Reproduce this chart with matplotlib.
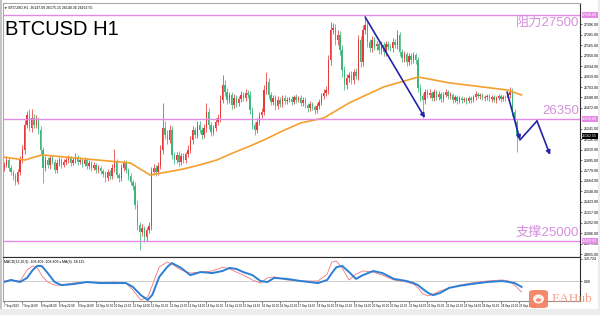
import numpy as np
import matplotlib.pyplot as plt
from matplotlib.patches import FancyBboxPatch, Rectangle, Ellipse

plt.rcParams['font.family'] = ['Liberation Sans', 'Noto Sans CJK SC', 'DejaVu Sans']

# 2-hour candles (open = previous close)
first_open = 25800
closes = [
    25841, 25896, 25808, 25764, 25720, 25653, 25764, 25896, 26007, 26283, 26394, 26250,
    26361, 26283, 26339, 26228, 26007, 25808, 25896, 25841, 25919, 25874, 25786, 25863,
    25896, 25841, 25874, 25896, 25919, 25863, 25896, 25930, 25874, 25896, 25852, 25896, 25830,
    25863, 25808, 25841, 25786, 25808, 25775, 25742, 25697, 25764, 25720, 25808, 25874, 25730,
    25697, 25808, 25863, 25786, 25720, 25653, 25609, 25399, 25177, 25100, 25144, 25045,
    25122, 25166, 25764, 25808, 25764, 25830, 26007, 26250, 26173, 26118, 26228, 25952,
    25896, 25952, 25874, 25941, 25896, 25960, 26007, 26118, 26228, 26173, 26283, 26228, 26173,
    26250, 26430, 26283, 26206, 26250, 26317, 26361, 26560, 26726, 26648, 26560, 26615,
    26505, 26582, 26527, 26570, 26615, 26582, 26637, 26615, 26449, 26283, 26228, 26317, 26394,
    26427, 26670, 26759, 26615, 26538, 26582, 26494, 26560, 26516, 26582, 26549, 26560, 26571,
    26538, 26593, 26560, 26582, 26527, 26560, 26505, 26471, 26516, 26480, 26449, 26494, 26538,
    26604, 26637, 26670, 27002, 27334, 27356, 27223, 27279, 27113, 26892, 26726, 26803,
    26836, 26781, 26870, 26825, 27223, 26980, 27334, 27389, 27201, 27135, 27223, 27157,
    27179, 27113, 27168, 27091, 27179, 27150, 27135, 27201, 27168, 27279, 27091, 27025, 27069,
    26980, 27047, 27002, 27058, 27002, 26693, 26604, 26560, 26648, 26615, 26637, 26582,
    26648, 26593, 26626, 26571, 26615, 26648, 26604, 26620, 26560, 26593, 26549, 26582, 26560,
    26571, 26549, 26582, 26560, 26593, 26626, 26604, 26615, 26582, 26590, 26604, 26571, 26593,
    26560, 26582, 26604, 26571, 26593, 26582, 26615, 26648, 26427, 26317, 26173, 26162,
]
upper_wick = [
    30, 40, 25, 30, 20, 35, 30, 40, 50, 60, 45, 70,
    100, 40, 50, 30, 40, 30, 40, 30, 35, 25, 30, 40,
    30, 25, 35, 30, 30, 25, 30, 40, 25, 30, 20, 30, 25,
    30, 25, 30, 20, 30, 25, 25, 30, 35, 25, 40, 144, 30,
    25, 40, 35, 30, 25, 30, 25, 40, 50, 30, 40, 25,
    30, 40, 50, 45, 30, 40, 60, 277, 80, 60, 50, 40,
    35, 30, 40, 30, 35, 30, 50, 40, 45, 30, 50, 40, 30,
    40, 97, 40, 30, 35, 40, 45, 60, 110, 50, 40, 35,
    30, 40, 30, 35, 45, 35, 40, 30, 40, 30, 35, 40, 30,
    40, 60, 110, 40, 30, 35, 30, 40, 30, 35, 30, 30, 25,
    30, 25, 30, 25, 30, 35, 30, 25, 30, 25, 25, 30, 35,
    30, 40, 45, 60, 90, 56, 50, 60, 40, 50, 45, 40,
    35, 40, 30, 40, 60, 50, 60, 89, 40, 35, 45, 30,
    35, 30, 40, 30, 35, 35, 30, 40, 35, 60, 30, 35, 30,
    25, 30, 35, 30, 25, 30, 40, 30, 35, 30, 40, 25,
    30, 25, 30, 25, 30, 35, 25, 25, 20, 25, 20, 25, 20,
    20, 25, 20, 25, 20, 30, 25, 20, 25, 25, 20, 25, 20,
    25, 20, 25, 20, 25, 20, 25, 56, 40, 30, 30, 25,
]
lower_wick = [
    30, 25, 35, 30, 40, 30, 25, 30, 35, 40, 30, 35,
    40, 35, 30, 40, 50, 166, 35, 30, 40, 25, 35, 30,
    30, 35, 25, 30, 30, 35, 25, 30, 35, 25, 30, 25, 35,
    30, 35, 25, 30, 35, 30, 30, 40, 30, 35, 30, 40, 35,
    40, 30, 35, 30, 40, 35, 40, 50, 60, 200, 40, 60,
    40, 35, 40, 35, 40, 30, 35, 40, 45, 40, 35, 50,
    40, 35, 40, 30, 35, 35, 30, 35, 40, 35, 30, 35, 40,
    35, 40, 45, 40, 35, 30, 35, 40, 35, 40, 45, 35,
    40, 35, 40, 30, 30, 35, 30, 35, 45, 40, 50, 35, 30,
    30, 35, 40, 45, 35, 30, 40, 35, 30, 35, 30, 30, 25,
    30, 25, 30, 25, 35, 30, 35, 40, 30, 35, 40, 35, 30,
    30, 35, 30, 40, 50, 45, 60, 50, 60, 80, 60, 45,
    40, 45, 40, 35, 45, 60, 40, 45, 50, 45, 40, 45,
    40, 45, 40, 45, 40, 40, 35, 40, 35, 40, 45, 40, 45,
    40, 35, 40, 35, 40, 50, 60, 200, 45, 35, 30, 35,
    30, 35, 30, 35, 30, 25, 30, 30, 35, 25, 30, 25, 30,
    25, 30, 25, 30, 25, 30, 25, 30, 25, 30, 30, 25, 30,
    25, 30, 25, 30, 25, 30, 25, 30, 40, 50, 188, 40,
]
current_price = 26162.55

# moving average (orange)
ma_idx = [-0.5, 9, 16.5, 55, 63.5, 71, 78, 85, 92.5, 99.5, 107, 114, 121, 129,
          139, 150, 165, 180, 194, 219, 225]
ma_vals = [25930, 25896, 25952, 25863, 25730, 25764, 25797, 25841, 25896, 25974,
           26051, 26129, 26217, 26306, 26361, 26527, 26704, 26814, 26748, 26670, 26615]

# MACD panel
macd_idx = [0, 3, 7, 10, 12.5, 14.5, 16.5, 19, 22, 25, 30, 36, 42, 48, 53, 56, 59.5,
            62.5, 64.5, 67.5, 71, 73, 77, 81, 85.5, 90.5, 95, 98, 101, 104, 108, 111.5,
            114.5, 117.5, 123, 129, 136.5, 140.5, 142.5, 144.5, 147, 150, 153, 156,
            160.5, 164.5, 169.5, 175, 178, 180, 182, 184.5, 186.5, 189.5, 193.5, 198,
            203, 210, 216.5, 219.5, 222, 225]
macd_signal = [-15, 15, -15, 45, 160, 220, 215, 115, -15, -60,
               -45, -15, -30, -30, -30, -85, -205, -275, -200, 60,
               205, 260, 190, 85, 130, 115, 145, 190, 175, 130,
               85, 0, -15, 45, 30, 0, -30, 15, 115, 200,
               220, 130, 30, 85, 145, 115, 30, 0, -30, -60,
               -115, -175, -205, -175, -100, -70, -45, -15, 0, -15,
               -30, -85]
macd_main = [0, 15, 0, 160, 220, 190, 75, -15, -60, -60,
             -30, -15, -30, -15, -30, -130, -275, -230, -60, 205,
             275, 245, 160, 115, 130, 145, 200, 175, 130, 85,
             15, -30, 45, 60, 15, 0, 0, 100, 275, 290,
             190, 15, 100, 145, 130, 85, 15, -15, -45, -100,
             -190, -215, -190, -145, -100, -60, -30, 0, 15, 0,
             -60, -160]

levels = [27500, 26350, 25000]
level_texts = ["阻力27500", "26350", "支撑25000"]
level_text_below = [True, False, False]

price_ticks = [27396, 27281, 27165, 27050, 26934, 26819, 26703, 26588, 26472, 26241,
               26126, 26010, 25895, 25779, 25664, 25548, 25433, 25317, 25202, 25086,
               24971, 24855]

time_labels = ["7 Sep 2023", "7 Sep 14:00", "8 Sep 06:00", "8 Sep 22:00", "9 Sep 14:00",
               "10 Sep 06:00", "10 Sep 22:00", "11 Sep 14:00", "12 Sep 06:00",
               "12 Sep 22:00", "13 Sep 14:00", "14 Sep 06:00", "14 Sep 22:00",
               "15 Sep 14:00", "16 Sep 06:00", "16 Sep 22:00", "17 Sep 14:00",
               "18 Sep 06:00", "18 Sep 22:00", "19 Sep 14:00", "20 Sep 06:00",
               "20 Sep 22:00", "21 Sep 14:00", "22 Sep 06:00", "22 Sep 22:00",
               "23 Sep 14:00", "24 Sep 06:00", "24 Sep 22:00", "25 Sep 14:00"]
label_step = 8

# hand-drawn trend arrows
trend1_idx = [157, 183]
trend1_px = [27478, 26361]
trend2_idx = [218.7, 224.3, 231.7, 237.4]
trend2_px = [26648, 26118, 26328, 25952]

assert len(closes) == len(upper_wick) == len(lower_wick)

UP = '#e63b38'
DOWN = '#3db67c'
VIOLET = '#e48ae6'
VIOLET_TXT = '#d690dc'
ARROW = '#2424a8'

closes = np.array(closes, dtype=float)
opens = np.concatenate([[first_open], closes[:-1]])
highs = np.maximum(opens, closes) + np.array(upper_wick)
lows = np.minimum(opens, closes) - np.array(lower_wick)
x = np.arange(len(closes))
colors = np.where(closes >= opens, UP, DOWN)

fig = plt.figure(figsize=(6, 3.15), dpi=100)
fig.patch.set_facecolor('white')
ax = fig.add_axes([0.005, 0.18413, 0.96167, 0.80635])
mx = fig.add_axes([0.005, 0.04444, 0.96167, 0.13968], sharex=ax)

# candles
ax.vlines(x, lows, highs, colors=colors, lw=0.55)
ax.bar(x, closes - opens, bottom=opens, width=0.6, color=colors, linewidth=0)
ax.plot(ma_idx, ma_vals, color='#f3a02e', lw=1.2)

for lv, txt, below in zip(levels, level_texts, level_text_below):
    ax.axhline(lv, color=VIOLET, lw=1.0)
    ax.text(0.998, lv - 20 if below else lv + 18, txt, transform=ax.get_yaxis_transform(),
            ha='right', va='top' if below else 'bottom', fontsize=9.5, color=VIOLET_TXT)
    ax.text(1.004, lv, f"{lv:.2f}", transform=ax.get_yaxis_transform(), ha='left',
            va='center', fontsize=2.6, color='white',
            bbox=dict(fc=VIOLET, ec='none', pad=0.5))
ax.text(1.004, current_price, f"{current_price:.2f}", transform=ax.get_yaxis_transform(),
        ha='left', va='center', fontsize=2.6, color='white',
        bbox=dict(fc='black', ec='none', pad=0.5))

# trend arrows
ax.annotate('', xy=(trend1_idx[1], trend1_px[1]), xytext=(trend1_idx[0], trend1_px[0]),
            arrowprops=dict(arrowstyle='-|>', color=ARROW, lw=1.2, mutation_scale=6,
                            shrinkA=0, shrinkB=0))
for k in range(len(trend2_idx) - 1):
    style = '-' if k == 1 else '-|>'
    ax.annotate('', xy=(trend2_idx[k + 1], trend2_px[k + 1]),
                xytext=(trend2_idx[k], trend2_px[k]),
                arrowprops=dict(arrowstyle=style, color=ARROW, lw=1.2, mutation_scale=6,
                                shrinkA=0, shrinkB=0))

ax.set_xlim(-0.43, 250.4)
ax.set_ylim(24823, 27633)
ax.yaxis.tick_right()
ax.set_yticks(price_ticks)
ax.set_yticklabels([f"{v:.2f}" for v in price_ticks])
ax.tick_params(axis='y', labelsize=2.6, length=1.5, width=0.4, pad=1)
ax.tick_params(axis='x', bottom=False, labelbottom=False)
for side, col in [('top', '#a8a8a8'), ('left', '#a8a8a8'), ('right', '#303030'),
                  ('bottom', '#303030')]:
    ax.spines[side].set_color(col)
    ax.spines[side].set_linewidth(0.8)

# MACD
mx.axhline(0, color='#c8c8c8', lw=0.6)
mx.plot(macd_idx, macd_main, color='#f27878', lw=0.6)
mx.plot(macd_idx, macd_signal, color='#2b7fd6', lw=1.4)
mx.set_ylim(-290, 348)
mx.yaxis.tick_right()
mx.set_yticks([319.724, 0])
mx.set_yticklabels(["319.724", "0.00"])
mx.tick_params(axis='y', labelsize=2.6, length=1.5, width=0.4, pad=1)
mx.set_xticks(np.arange(len(time_labels)) * label_step)
mx.set_xticklabels(time_labels)
for lbl in mx.get_xticklabels():
    lbl.set_ha('left')
mx.tick_params(axis='x', labelsize=2.1, length=1.5, width=0.4, pad=1)
for side, col in [('top', '#303030'), ('left', '#a8a8a8'), ('right', '#303030'),
                  ('bottom', '#909090')]:
    mx.spines[side].set_color(col)
    mx.spines[side].set_linewidth(0.8)
mx.text(0.002, 0.93, "MACD(12,26,9) -108.409 -108.409 s.MA(9) -58.115",
        transform=mx.transAxes, fontsize=2.5, va='top', ha='left')

# titles and frame decorations
fig.text(5 / 600, 1 - 35 / 315, "BTCUSD H1", fontsize=14.5, va='baseline', ha='left')
fig.text(4 / 600, 1 - 7.5 / 315, "▼ BTCUSD,H1  26147.09 26175.15 26140.36 26162.55",
         fontsize=2.5, va='center', ha='left')
fig.add_artist(Rectangle((0, 0), 2 / 600, 1, transform=fig.transFigure,
                         color='#c4c4c4', lw=0))
fig.add_artist(Rectangle((0, 0), 1, 6 / 315, transform=fig.transFigure,
                         color='#ececec', lw=0))
fig.add_artist(Rectangle((598 / 600, 0), 2 / 600, 1, transform=fig.transFigure,
                         color='#ececec', lw=0))

# EAHub watermark
fig.add_artist(FancyBboxPatch((529 / 600, 1 - 308 / 315), 19 / 600, 18 / 315,
                              boxstyle='round,pad=0,rounding_size=0.008',
                              transform=fig.transFigure, fc='#f47c5c', ec='none',
                              alpha=0.9))
fig.add_artist(Ellipse((538.5 / 600, 1 - 299 / 315), 11 / 600, 9 / 315,
                       transform=fig.transFigure, fc='white', ec='none', alpha=0.9))
fig.add_artist(Ellipse((538.5 / 600, 1 - 300 / 315), 5 / 600, 3.5 / 315,
                       transform=fig.transFigure, fc='#f47c5c', ec='none', alpha=0.9))
fig.text(552 / 600, 1 - 299 / 315, "EAHub", fontsize=9.5, color='#f49074',
         family='Liberation Serif', va='center', ha='left', alpha=0.85)

fig.savefig('out.png', dpi=100)
